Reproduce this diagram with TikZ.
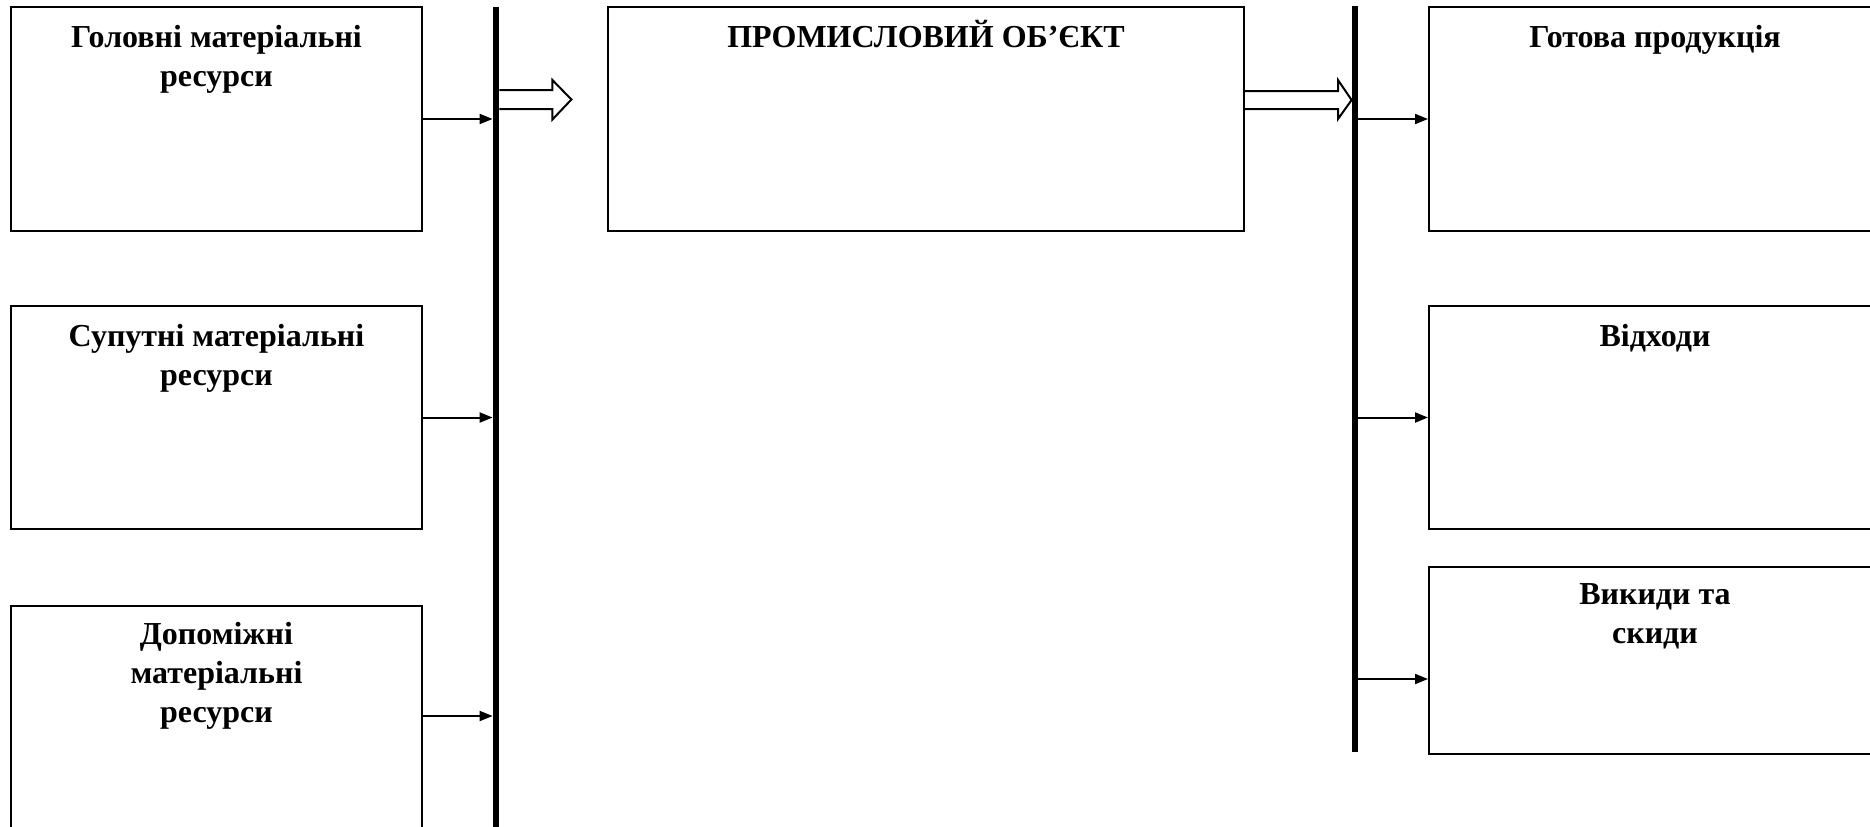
\documentclass[tikz,border=0pt]{standalone}
\usepackage{fontspec}
\setmainfont{Liberation Serif}
\usetikzlibrary{arrows.meta,calc}
\newcommand{\topstrut}{\rule{0pt}{14pt}}
\begin{document}
\begin{tikzpicture}[x=0.5pt,y=-0.5pt,
  box/.style={draw,line width=1pt,inner sep=0pt,anchor=north west},
  bus/.style={fill=black,draw=none,inner sep=0pt,minimum width=3pt,anchor=north},
  lbl/.style={anchor=north,inner sep=0pt,align=center,font=\fontsize{16}{19.5}\selectfont\bfseries},
  conn/.style={line width=1pt,-{Triangle[length=6.5pt,width=5pt]}},
  hollow/.style={draw,fill=white,line width=1pt,line join=miter}]
\useasboundingbox (0,0) rectangle (1870,826);
\clip (0,0) rectangle (1870,826);
% boxes
\node[box,minimum width=411*0.5pt,minimum height=224*0.5pt] (b1) at (10,6) {};
\node[box,minimum width=411*0.5pt,minimum height=223*0.5pt] (b2) at (10,305) {};
\node[box,minimum width=411*0.5pt,minimum height=226*0.5pt] (b3) at (10,605) {};
\node[box,minimum width=636*0.5pt,minimum height=224*0.5pt] (c) at (607,6) {};
\node[box,minimum width=452*0.5pt,minimum height=224*0.5pt] (r1) at (1428,6) {};
\node[box,minimum width=452*0.5pt,minimum height=223*0.5pt] (r2) at (1428,305) {};
\node[box,minimum width=452*0.5pt,minimum height=187*0.5pt] (r3) at (1428,566) {};
% labels
\node[lbl] (t1) at ($(b1.north)+(0,13)$) {\topstrut Головні матеріальні\\ресурси};
\node[lbl] (t2) at ($(b2.north)+(0,13)$) {\topstrut Супутні матеріальні\\ресурси};
\node[lbl] (t3) at ($(b3.north)+(0,11)$) {\topstrut Допоміжні\\матеріальні\\ресурси};
\node[lbl] (tc) at ($(c.north)+(0,13)$) {\topstrut ПРОМИСЛОВИЙ ОБ’ЄКТ};
\node[lbl] (tr1) at ($(r1.north)+(0,13)$) {\topstrut Готова продукція};
\node[lbl] (tr2) at ($(r2.north)+(0,13)$) {\topstrut Відходи};
\node[lbl] (tr3) at ($(r3.north)+(0,10)$) {\topstrut Викиди та\\скиди};
% buses
\node[bus,minimum height=830*0.5pt] (busL) at (496,7) {};
\node[bus,minimum height=746*0.5pt] (busR) at (1355,6) {};
% connectors
\draw[conn] (b1.east) -- (b1.east -| busL.west);
\draw[conn] (b2.east) -- (b2.east -| busL.west);
\draw[conn] ($(b3.east)+(0,-3)$) -- ($(b3.east -| busL.west)+(0,-3)$);
\draw[conn] (r1.west -| busR.east) -- (r1.west);
\draw[conn] (r2.west -| busR.east) -- (r2.west);
\draw[conn] ($(r3.west -| busR.east)+(0,18.5)$) -- ($(r3.west)+(0,18.5)$);
% hollow arrows
\coordinate (hl) at (busL.east |- 0,99.5);
\draw[hollow] ($(hl)+(0,-9.5)$) -- ++(53,0) -- ++(0,-10) -- ($(hl)+(72,0)$) -- ($(hl)+(53,20)$) -- ++(0,-10.5) -- ($(hl)+(0,9.5)$);
\coordinate (hr) at (c.east |- 0,100);
\draw[hollow] ($(hr)+(0,-9)$) -- ($(hr)+(93,-9)$) -- ($(hr)+(93,-20)$) -- (busR.west |- hr) -- ($(hr)+(93,19)$) -- ($(hr)+(93,9)$) -- ($(hr)+(0,9)$);
\end{tikzpicture}
\end{document}
